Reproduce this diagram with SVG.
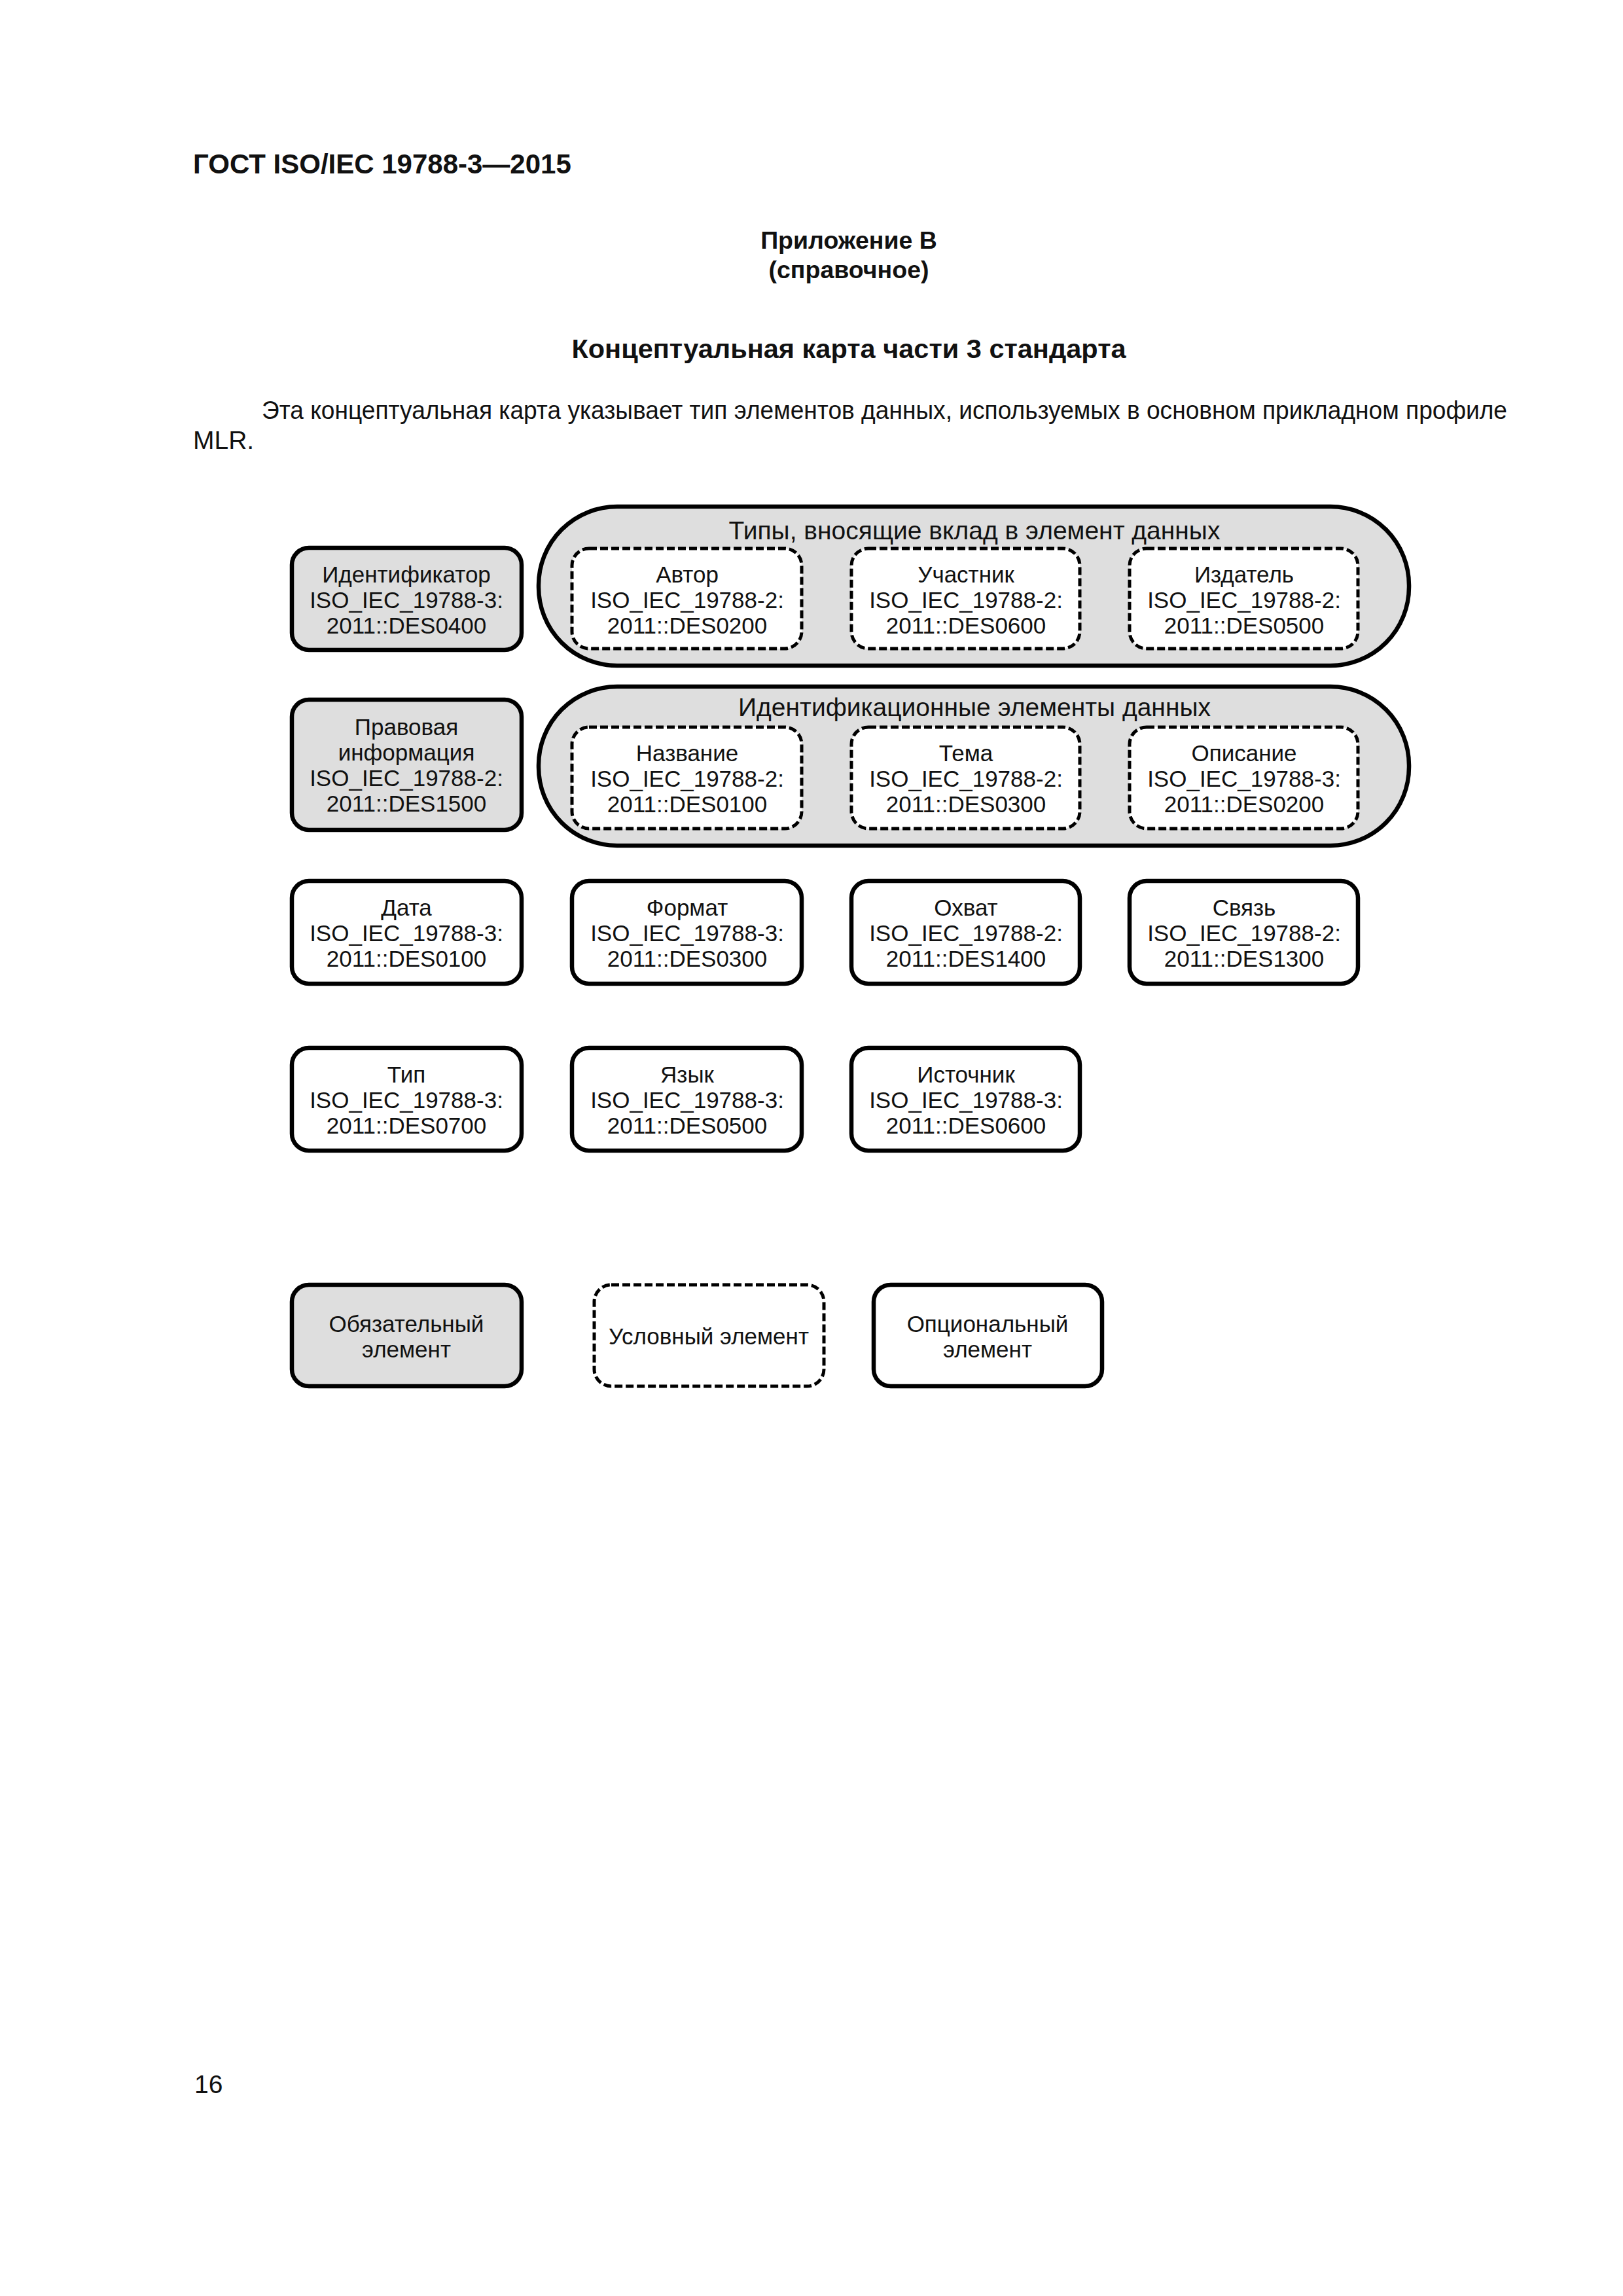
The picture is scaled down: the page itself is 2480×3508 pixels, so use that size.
<svg xmlns="http://www.w3.org/2000/svg" width="2480" height="3508" viewBox="0 0 2480 3508">
<style>
text{font-family:"Liberation Sans",Arial,sans-serif;fill:#111}
.hdr{font-size:42px;font-weight:bold}
.h2{font-size:37.5px;font-weight:bold}
.h1{font-size:41.5px;font-weight:bold}
.p{font-size:39px}
.t{font-size:35px;text-anchor:middle}
.g{font-size:39px;text-anchor:middle}
.req{fill:#dedede;stroke:#000;stroke-width:6.5}
.opt{fill:#fff;stroke:#000;stroke-width:6.5}
.cond{fill:#fff;stroke:#000;stroke-width:5;stroke-dasharray:12 5}
.pill{fill:#dedede;stroke:#000;stroke-width:6.5}
</style>
<rect width="2480" height="3508" fill="#fff"/>
<text class="hdr" x="295" y="265">ГОСТ ISO/IEC 19788-3—2015</text>
<text class="h2" x="1297" y="380" text-anchor="middle">Приложение B</text>
<text class="h2" x="1297" y="425" text-anchor="middle">(справочное)</text>
<text class="h1" x="1297" y="547" text-anchor="middle">Концептуальная карта части 3 стандарта</text>
<text class="p" x="400" y="640" textLength="1903" lengthAdjust="spacingAndGlyphs">Эта концептуальная карта указывает тип элементов данных, используемых в основном прикладном профиле</text>
<text class="p" x="295" y="686">MLR.</text>

<g id="group-contrib">
<rect class="pill" x="823" y="774" width="1330" height="243" rx="120" ry="120"/>
<text class="g" x="1489" y="824">Типы, вносящие вклад в элемент данных</text>
</g>
<g id="group-ident">
<rect class="pill" x="823" y="1049" width="1330" height="243" rx="120" ry="120"/>
<text class="g" x="1489" y="1094">Идентификационные элементы данных</text>
</g>

<g id="n-identifier"><rect class="req" x="446" y="837" width="351" height="156" rx="26"/>
<text class="t" x="621" y="890">Идентификатор</text><text class="t" x="621" y="929">ISO_IEC_19788-3:</text><text class="t" x="621" y="968">2011::DES0400</text></g>
<g id="n-author"><rect class="cond" x="874" y="838" width="351" height="153" rx="26"/>
<text class="t" x="1050" y="890">Автор</text><text class="t" x="1050" y="929">ISO_IEC_19788-2:</text><text class="t" x="1050" y="968">2011::DES0200</text></g>
<g id="n-contributor"><rect class="cond" x="1301" y="838" width="349" height="153" rx="26"/>
<text class="t" x="1476" y="890">Участник</text><text class="t" x="1476" y="929">ISO_IEC_19788-2:</text><text class="t" x="1476" y="968">2011::DES0600</text></g>
<g id="n-publisher"><rect class="cond" x="1726" y="838" width="349" height="153" rx="26"/>
<text class="t" x="1901" y="890">Издатель</text><text class="t" x="1901" y="929">ISO_IEC_19788-2:</text><text class="t" x="1901" y="968">2011::DES0500</text></g>

<g id="n-rights"><rect class="req" x="446" y="1069" width="351" height="199" rx="26"/>
<text class="t" x="621" y="1123">Правовая</text><text class="t" x="621" y="1162">информация</text><text class="t" x="621" y="1201">ISO_IEC_19788-2:</text><text class="t" x="621" y="1240">2011::DES1500</text></g>
<g id="n-title"><rect class="cond" x="874" y="1111" width="351" height="155" rx="26"/>
<text class="t" x="1050" y="1163">Название</text><text class="t" x="1050" y="1202">ISO_IEC_19788-2:</text><text class="t" x="1050" y="1241">2011::DES0100</text></g>
<g id="n-subject"><rect class="cond" x="1301" y="1111" width="349" height="155" rx="26"/>
<text class="t" x="1476" y="1163">Тема</text><text class="t" x="1476" y="1202">ISO_IEC_19788-2:</text><text class="t" x="1476" y="1241">2011::DES0300</text></g>
<g id="n-description"><rect class="cond" x="1726" y="1111" width="349" height="155" rx="26"/>
<text class="t" x="1901" y="1163">Описание</text><text class="t" x="1901" y="1202">ISO_IEC_19788-3:</text><text class="t" x="1901" y="1241">2011::DES0200</text></g>

<g id="n-date"><rect class="opt" x="446" y="1346" width="351" height="157" rx="26"/>
<text class="t" x="621" y="1399">Дата</text><text class="t" x="621" y="1438">ISO_IEC_19788-3:</text><text class="t" x="621" y="1477">2011::DES0100</text></g>
<g id="n-format"><rect class="opt" x="874" y="1346" width="351" height="157" rx="26"/>
<text class="t" x="1050" y="1399">Формат</text><text class="t" x="1050" y="1438">ISO_IEC_19788-3:</text><text class="t" x="1050" y="1477">2011::DES0300</text></g>
<g id="n-coverage"><rect class="opt" x="1301" y="1346" width="349" height="157" rx="26"/>
<text class="t" x="1476" y="1399">Охват</text><text class="t" x="1476" y="1438">ISO_IEC_19788-2:</text><text class="t" x="1476" y="1477">2011::DES1400</text></g>
<g id="n-relation"><rect class="opt" x="1726" y="1346" width="349" height="157" rx="26"/>
<text class="t" x="1901" y="1399">Связь</text><text class="t" x="1901" y="1438">ISO_IEC_19788-2:</text><text class="t" x="1901" y="1477">2011::DES1300</text></g>

<g id="n-type"><rect class="opt" x="446" y="1601" width="351" height="157" rx="26"/>
<text class="t" x="621" y="1654">Тип</text><text class="t" x="621" y="1693">ISO_IEC_19788-3:</text><text class="t" x="621" y="1732">2011::DES0700</text></g>
<g id="n-language"><rect class="opt" x="874" y="1601" width="351" height="157" rx="26"/>
<text class="t" x="1050" y="1654">Язык</text><text class="t" x="1050" y="1693">ISO_IEC_19788-3:</text><text class="t" x="1050" y="1732">2011::DES0500</text></g>
<g id="n-source"><rect class="opt" x="1301" y="1601" width="349" height="157" rx="26"/>
<text class="t" x="1476" y="1654">Источник</text><text class="t" x="1476" y="1693">ISO_IEC_19788-3:</text><text class="t" x="1476" y="1732">2011::DES0600</text></g>

<g id="legend-required"><rect class="req" x="446" y="1963" width="351" height="155" rx="26"/>
<text class="t" x="621" y="2035">Обязательный</text><text class="t" x="621" y="2074">элемент</text></g>
<g id="legend-conditional"><rect class="cond" x="908" y="1963" width="351" height="155" rx="26"/>
<text class="t" x="1083" y="2054">Условный элемент</text></g>
<g id="legend-optional"><rect class="opt" x="1335" y="1963" width="349" height="155" rx="26"/>
<text class="t" x="1509" y="2035">Опциональный</text><text class="t" x="1509" y="2074">элемент</text></g>

<g id="connectors"></g>
<text class="p" x="297" y="3198">16</text>
</svg>
